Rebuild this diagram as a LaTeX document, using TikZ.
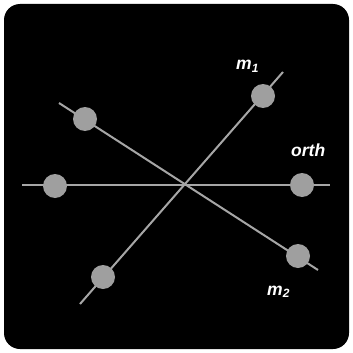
\documentclass[tikz,border=0pt]{standalone}
\usepackage{fontspec}
\setmainfont{Liberation Sans}
\begin{document}
\begin{tikzpicture}[x=1pt,y=-1pt,
  axisline/.style={draw=gray!70!white, line width=2pt},
  ball/.style={circle, fill=gray!75!white, minimum size=24pt, inner sep=0pt},
  lab/.style={text=white, font=\fontsize{17.5}{20}\selectfont\bfseries\itshape, inner sep=0pt, anchor=base west}]
\useasboundingbox (0,0) rectangle (353,353);
\fill[white] (0,0) rectangle (353,353);
\fill[black, rounded corners=16pt] (4,4) rectangle (349,349);
% line ends
\coordinate (h1) at (22,185);
\coordinate (h2) at (330,185);
\coordinate (a1) at (80,304);
\coordinate (a2) at (283,72);
\coordinate (b1) at (59,103);
\coordinate (b2) at (318,270);
\draw[axisline] (h1) -- (h2);
\draw[axisline] (a1) -- (a2);
\draw[axisline] (b1) -- (b2);
\node[ball] (c1) at (55,186) {};
\node[ball] (c2) at (302,185) {};
\node[ball] (c3) at (263,96) {};
\node[ball] (c4) at (103,277) {};
\node[ball] (c5) at (85,119) {};
\node[ball] (c6) at (298,256) {};
\node[lab] (lm1) at (236,70) {m\raisebox{-0.3ex}{\fontsize{12}{13}\selectfont 1}};
\node[lab] (lorth) at (291,156) {orth};
\node[lab] (lm2) at (267,295) {m\raisebox{-0.3ex}{\fontsize{12}{13}\selectfont 2}};
\end{tikzpicture}
\end{document}
